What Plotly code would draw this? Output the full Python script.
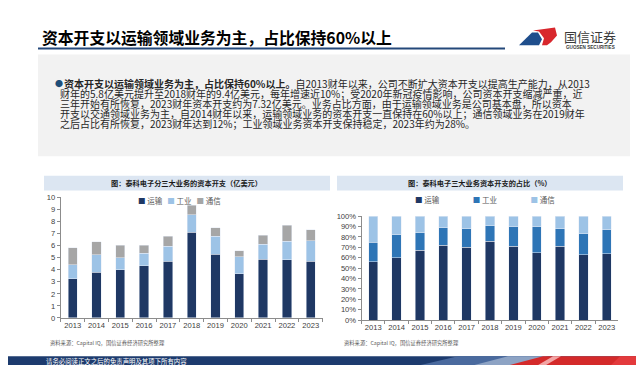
import plotly.graph_objects as go

W, H = 644, 365

# ---------------- data ----------------
years = ["2013", "2014", "2015", "2016", "2017", "2018", "2019", "2020", "2021", "2022", "2023"]
# left chart: capex by segment (亿美元)
capex_transport = [3.23, 3.80, 3.99, 4.34, 4.72, 7.12, 5.28, 3.67, 4.88, 4.82, 4.69]
capex_industrial = [1.16, 1.43, 1.02, 1.02, 1.24, 1.45, 1.49, 1.40, 1.21, 1.54, 1.70]
capex_comms = [1.41, 1.10, 1.00, 0.65, 0.83, 0.76, 0.72, 0.50, 0.78, 1.32, 0.94]
# right chart: share of capex (%)
share_transport = [56, 60, 67, 72, 70, 76, 71, 65, 71, 63, 64]
share_industrial = [19, 22, 17, 17, 18, 15, 19, 25, 17, 20, 23]
share_comms = [25, 18, 16, 11, 12, 9, 10, 10, 12, 17, 13]
series_names = ["运输", "工业", "通信"]
left_ticks = [0, 1, 2, 3, 4, 5, 6, 7, 8, 9, 10]
right_ticks = [0, 10, 20, 30, 40, 50, 60, 70, 80, 90, 100]
right_ticklabels = [f"{v}%" for v in right_ticks]

NAVY = "#1f3864"
LBLUE = "#9dc3e6"
GRAY = "#a6a6a6"
MBLUE = "#2e75b6"

CJK = "Noto Sans CJK SC"


def px(x):
    return x / W


def py(y):
    return 1 - y / H


fig = go.Figure()

left_colors = [NAVY, LBLUE, GRAY]
for name, vals, col in zip(series_names, [capex_transport, capex_industrial, capex_comms], left_colors):
    fig.add_trace(go.Bar(x=years, y=vals, name=name, marker_color=col, width=0.39,
                         xaxis="x", yaxis="y", showlegend=False))

right_colors = [NAVY, MBLUE, LBLUE]
for name, vals, col in zip(series_names, [share_transport, share_industrial, share_comms], right_colors):
    fig.add_trace(go.Bar(x=years, y=vals, name=name, marker_color=col, width=0.40,
                         xaxis="x2", yaxis="y2", showlegend=False))

axis_common = dict(showline=True, linecolor="#8c8c8c", linewidth=1, ticks="outside",
                   tickcolor="#8c8c8c", ticklen=3, showgrid=False, zeroline=False,
                   tickfont=dict(family="Arial", size=7.6, color="#404040"))

fig.update_layout(
    width=W, height=H, margin=dict(l=0, r=0, t=0, b=0),
    paper_bgcolor="white", plot_bgcolor="white", barmode="stack", bargap=0.6,
    xaxis=dict(domain=[px(52.8), px(314.6)], anchor="y", type="category",
               tickson="boundaries", tickangle=0, **axis_common),
    yaxis=dict(domain=[py(313.7), py(190)], anchor="x", range=[0, 10],
               tickvals=left_ticks, **axis_common),
    xaxis2=dict(domain=[px(353.6), px(610.4)], anchor="y2", type="category",
                tickson="boundaries", tickangle=0, **axis_common),
    yaxis2=dict(domain=[py(316), py(209.3)], anchor="x2", range=[0, 100],
                tickvals=right_ticks, ticktext=right_ticklabels, **axis_common),
)

shapes = []
# grey text panel
shapes.append(dict(type="rect", xref="paper", yref="paper", x0=px(30), x1=px(622), y0=py(148), y1=py(43.5),
                   fillcolor="#f2f2f2", line=dict(width=0), layer="below"))
# title underline
shapes.append(dict(type="line", xref="paper", yref="paper", x0=px(30), x1=px(497), y0=py(37.5), y1=py(37.5),
                   line=dict(color="#24487a", width=2)))
# chart title bars
shapes.append(dict(type="rect", xref="paper", yref="paper", x0=px(36), x1=px(322), y0=py(183), y1=py(168),
                   fillcolor="#dce6f2", line=dict(width=0), layer="below"))
shapes.append(dict(type="rect", xref="paper", yref="paper", x0=px(329), x1=px(615), y0=py(183), y1=py(168),
                   fillcolor="#dce6f2", line=dict(width=0), layer="below"))
# footer band
shapes.append(dict(type="rect", xref="paper", yref="paper", x0=0, x1=1, y0=0, y1=py(353),
                   fillcolor="#1d3b6e", line=dict(width=0)))


def poly(points, color):
    d = "M " + " L ".join(f"{px(x):.5f},{py(y):.5f}" for x, y in points) + " Z"
    return dict(type="path", xref="paper", yref="paper", path=d, fillcolor=color, line=dict(width=0))


shapes.append(poly([(400, 365), (450, 353), (520, 353), (470, 365)], "#4a6a9e"))
shapes.append(poly([(455, 365), (500, 353), (540, 353), (495, 365)], "#8da3c4"))
shapes.append(poly([(490, 365), (535, 353), (644, 353), (644, 365)], "#d42a2a"))
shapes.append(poly([(525, 365), (545, 353), (553, 353), (533, 365)], "#f2a5a5"))
shapes.append(poly([(600, 365), (612, 353), (644, 353), (644, 365)], "#e33a3c"))
# logo
shapes.append(poly([(511, 34), (524, 21), (530, 21), (534, 28), (531, 34)], "#1f4e8c"))
shapes.append(poly([(525, 19), (547, 16), (549, 24), (543, 31), (539, 34), (534, 34), (536, 27), (531, 20)], "#d8272d"))

fig.update_layout(shapes=shapes)

ann = []
# main title
ann.append(dict(x=px(33), y=py(26), xref="paper", yref="paper", xanchor="left", yanchor="middle",
                text="<b>资本开支以运输领域业务为主，占比保持60%以上</b>", showarrow=False, borderpad=0,
                font=dict(family=CJK, size=15.8, color="#000000")))
# logo text
ann.append(dict(x=px(582), y=py(25), xref="paper", yref="paper", xanchor="center", yanchor="middle",
                text="国信证券", showarrow=False, borderpad=0, font=dict(family=CJK, size=13, color="#3a3a3a")))
ann.append(dict(x=px(582), y=py(36), xref="paper", yref="paper", xanchor="center", yanchor="middle",
                text="<b>GUOSEN SECURITIES</b>", showarrow=False, borderpad=0,
                font=dict(family="Arial", size=4.6, color="#3a3a3a")))

# body text
lines = [
    "<b>资本开支以运输领域业务为主，占比保持60%以上。</b>自2013财年以来，公司不断扩大资本开支以提高生产能力，从2013",
    "财年的5.8亿美元提升至2018财年的9.4亿美元，每年增速近10%；受2020年新冠疫情影响，公司资本开支缩减严重，近",
    "三年开始有所恢复，2023财年资本开支约为7.32亿美元。业务占比方面，由于运输领域业务是公司基本盘，所以资本",
    "开支以交通领域业务为主，自2014财年以来，运输领域业务的资本开支一直保持在60%以上；通信领域业务在2019财年",
    "之后占比有所恢复，2023财年达到12%；工业领域业务资本开支保持稳定，2023年约为28%。",
]
line_y = [73.0, 83.3, 93.6, 103.9, 114.2]
line_x = [55, 51, 51, 51, 51]
ann.append(dict(x=px(46), y=py(73.0), xref="paper", yref="paper", xanchor="left", yanchor="middle",
                text="●", showarrow=False, borderpad=0, font=dict(family=CJK, size=8, color="#1f4e79")))
for t, x, y in zip(lines, line_x, line_y):
    ann.append(dict(x=px(x), y=py(y), xref="paper", yref="paper", xanchor="left", yanchor="middle",
                    text=t, showarrow=False, borderpad=0,
                    font=dict(family=CJK, size=10, color="#262626")))

# chart titles
ann.append(dict(x=px(178), y=py(175.5), xref="paper", yref="paper", xanchor="center", yanchor="middle",
                text="<b>图：泰科电子分三大业务的资本开支（亿美元）</b>", showarrow=False, borderpad=0,
                font=dict(family=CJK, size=7.2, color="#1a1a1a")))
ann.append(dict(x=px(472), y=py(175.5), xref="paper", yref="paper", xanchor="center", yanchor="middle",
                text="<b>图：泰科电子三大业务资本开支的占比（%）</b>", showarrow=False, borderpad=0,
                font=dict(family=CJK, size=7.2, color="#1a1a1a")))


def legend_text(names, colors, gap):
    parts = [f'<span style="color:{c}">■</span> {n}' for n, c in zip(names, colors)]
    return gap.join(parts)


ann.append(dict(x=px(129), y=py(193), xref="paper", yref="paper", xanchor="left", yanchor="middle",
                text=legend_text(series_names, left_colors, "   "), showarrow=False, borderpad=0,
                font=dict(family=CJK, size=7.5, color="#595959")))
ann.append(dict(x=px(406), y=py(192), xref="paper", yref="paper", xanchor="left", yanchor="middle",
                text=legend_text(series_names, right_colors, "&nbsp;" * 20), showarrow=False, borderpad=0,
                font=dict(family=CJK, size=7.5, color="#595959")))

# sources
for x in (41, 335):
    ann.append(dict(x=px(x), y=py(339), xref="paper", yref="paper", xanchor="left", yanchor="middle",
                    text="资料来源：Capital IQ，国信证券经济研究所整理", showarrow=False, borderpad=0,
                    font=dict(family=CJK, size=5.3, color="#595959")))

# footer text
ann.append(dict(x=px(37), y=py(358.3), xref="paper", yref="paper", xanchor="left", yanchor="middle",
                text="请务必阅读正文之后的免责声明及其项下所有内容", showarrow=False, borderpad=0,
                font=dict(family=CJK, size=6.4, color="#ffffff")))

fig.update_layout(annotations=ann)

fig.write_html("out.html")
